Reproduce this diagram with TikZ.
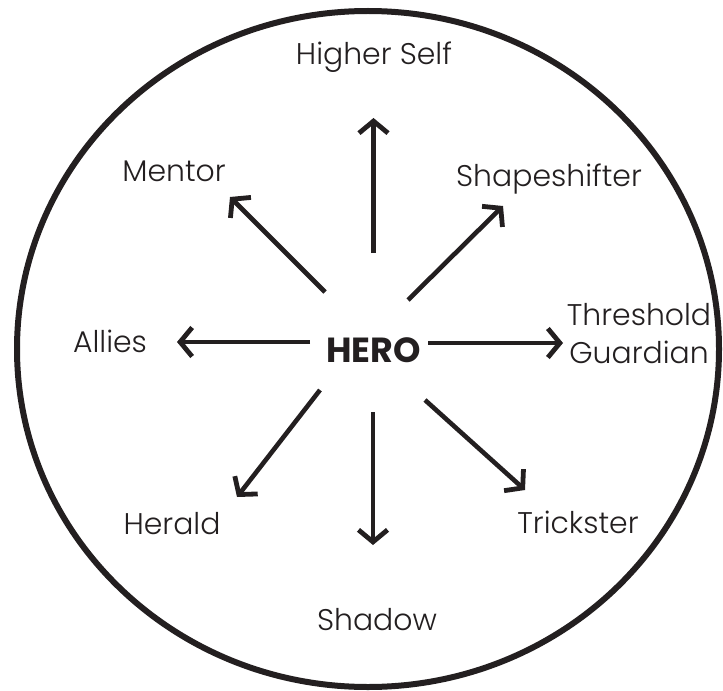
\documentclass[tikz,border=0pt]{standalone}
\usepackage{fontspec}
\setmainfont{Poppins}[UprightFont=* Light, BoldFont=* Bold]
\usetikzlibrary{arrows.meta}
\definecolor{ink}{HTML}{231F20}

\begin{document}
\begin{tikzpicture}[
  x=1bp,
  y=-1bp,
  line join=miter,
  rim/.style={draw=ink,line width=6bp},
  spoke/.style={draw=ink,line width=4.6bp,-{Straight Barb[length=12bp,width=29bp,line width=4.8bp]}},
  archetype/.style={text=ink,font=\fontsize{30}{38}\selectfont,inner sep=0pt,anchor=base},
  hero/.style={text=ink,font=\fontsize{35}{40}\selectfont\bfseries,inner sep=0pt,anchor=base}
]
  \useasboundingbox (0,0) rectangle (723,691);

  % Outer ring.
  \draw[rim] (368,349) ellipse [x radius=351, y radius=338];

  % Centre and the archetypes round it.
  \node[hero] (hero) at (373.5,362) {HERO};
  \node[archetype] (higherself) at (374,65) {Higher Self};
  \node[archetype] (mentor) at (174,181) {Mentor};
  \node[archetype] (shapeshifter) at (549,186) {Shapeshifter};
  \node[archetype] (allies) at (110,352) {Allies};
  \node[archetype,align=center,anchor=center] (guardian) at (639,334) {Threshold\\Guardian};
  \node[archetype] (herald) at (172,534) {Herald};
  \node[archetype] (trickster) at (578,533) {Trickster};
  \node[archetype] (shadow) at (377,630) {Shadow};

  % Arrow ends: start near the centre, tip near the label.
  \coordinate (sN) at (373.5,253);  \coordinate (tN) at (373.5,118);
  \coordinate (sS) at (373,412);    \coordinate (tS) at (373,545);
  \coordinate (sW) at (310,342);    \coordinate (tW) at (177,342);
  \coordinate (sE) at (428,343);    \coordinate (tE) at (563,343);
  \coordinate (sNW) at (325,292);   \coordinate (tNW) at (230,197);
  \coordinate (sNE) at (408,300);   \coordinate (tNE) at (503,206);
  \coordinate (sSW) at (320,390);   \coordinate (tSW) at (237,497);
  \coordinate (sSE) at (425,400);   \coordinate (tSE) at (525,490);

  \foreach \d in {N,S,W,E,NW,NE,SW,SE} {
    \draw[spoke] (s\d) -- (t\d);
  }
\end{tikzpicture}
\end{document}
